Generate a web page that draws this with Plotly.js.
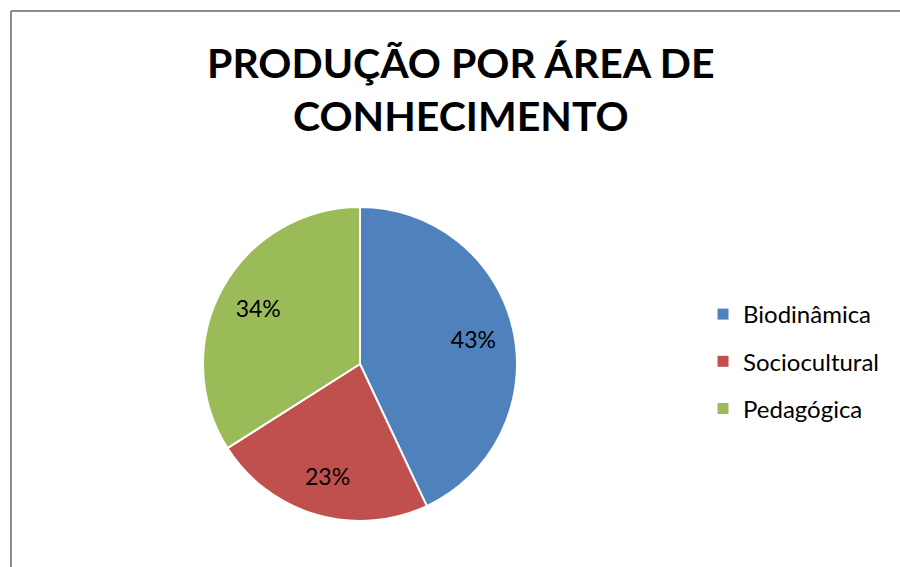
<!DOCTYPE html>
<html>
<head>
<meta charset="utf-8">
<script src="https://cdn.plot.ly/plotly-3.0.1.min.js"></script>
<style>
  html, body { margin: 0; padding: 0; background: #fff; }
  #chart { width: 900px; height: 567px; }
</style>
</head>
<body>
<div id="chart"></div>
<script>
const categories = ["Biodinâmica", "Sociocultural", "Pedagógica"];
const values = [43, 23, 34];
const colors = ["#4F81BD", "#C0504D", "#9BBB59"];
const titleText = "PRODUÇÃO POR ÁREA DE<br>CONHECIMENTO";

const W = 900, H = 567;
const cx = 360, cy = 364, R = 157;
const FONT = "Lato, 'Open Sans', sans-serif";
const domain = {
  x: [(cx - R) / W, (cx + R) / W],
  y: [(H - cy - R) / H, (H - cy + R) / H]
};

// Full pie (the coloured slices)
const pie = {
  type: "pie",
  labels: categories,
  values: values,
  sort: false,
  direction: "clockwise",
  rotation: 0,
  marker: { colors: colors, line: { color: "#ffffff", width: 2 } },
  textinfo: "none",
  showlegend: false,
  hoverinfo: "label+percent",
  domain: domain
};

// Same data again, transparent ring, used only to place the percent labels further out
const labelsRing = {
  type: "pie",
  labels: categories,
  values: values,
  sort: false,
  direction: "clockwise",
  rotation: 0,
  hole: 0.48,
  marker: { colors: categories.map(() => "rgba(0,0,0,0)"), line: { width: 0 } },
  textinfo: "percent",
  textposition: "inside",
  insidetextorientation: "horizontal",
  textfont: { family: FONT, size: 23, color: "#000000" },
  showlegend: false,
  hoverinfo: "skip",
  domain: domain
};

// Legend entries built from the same category / colour arrays
const legendTraces = categories.map((c, i) => ({
  type: "scatter",
  mode: "markers",
  x: [null],
  y: [null],
  name: c,
  legendgroup: "g" + i,
  marker: { symbol: "square", size: 11, color: colors[i] },
  hoverinfo: "skip"
}));

const layout = {
  width: W,
  height: H,
  margin: { l: 0, r: 0, t: 0, b: 0 },
  paper_bgcolor: "#ffffff",
  plot_bgcolor: "#ffffff",
  xaxis: { visible: false },
  yaxis: { visible: false },
  title: {
    text: titleText,
    x: 0.512,
    xanchor: "center",
    xref: "container",
    yref: "container",
    y: 1 - 78 / H,
    yanchor: "top",
    font: { family: FONT, size: 41, color: "#000000", weight: "bold" }
  },
  showlegend: true,
  legend: {
    x: 703 / W,
    xanchor: "left",
    y: 1 - 292 / H,
    yanchor: "top",
    traceorder: "grouped",
    tracegroupgap: 13,
    font: { family: FONT, size: 24, color: "#000000" },
    bgcolor: "rgba(0,0,0,0)"
  },
  shapes: [
    { type: "line", xref: "paper", yref: "paper", x0: 11 / W, x1: 1.01, y0: 1 - 11 / H, y1: 1 - 11 / H,
      line: { color: "#8c8c8c", width: 2 } },
    { type: "line", xref: "paper", yref: "paper", x0: 11 / W, x1: 11 / W, y0: -0.01, y1: 1 - 11 / H,
      line: { color: "#8c8c8c", width: 2 } }
  ]
};

Plotly.newPlot("chart", [pie, labelsRing].concat(legendTraces), layout, { displayModeBar: false, staticPlot: true });
</script>
</body>
</html>
